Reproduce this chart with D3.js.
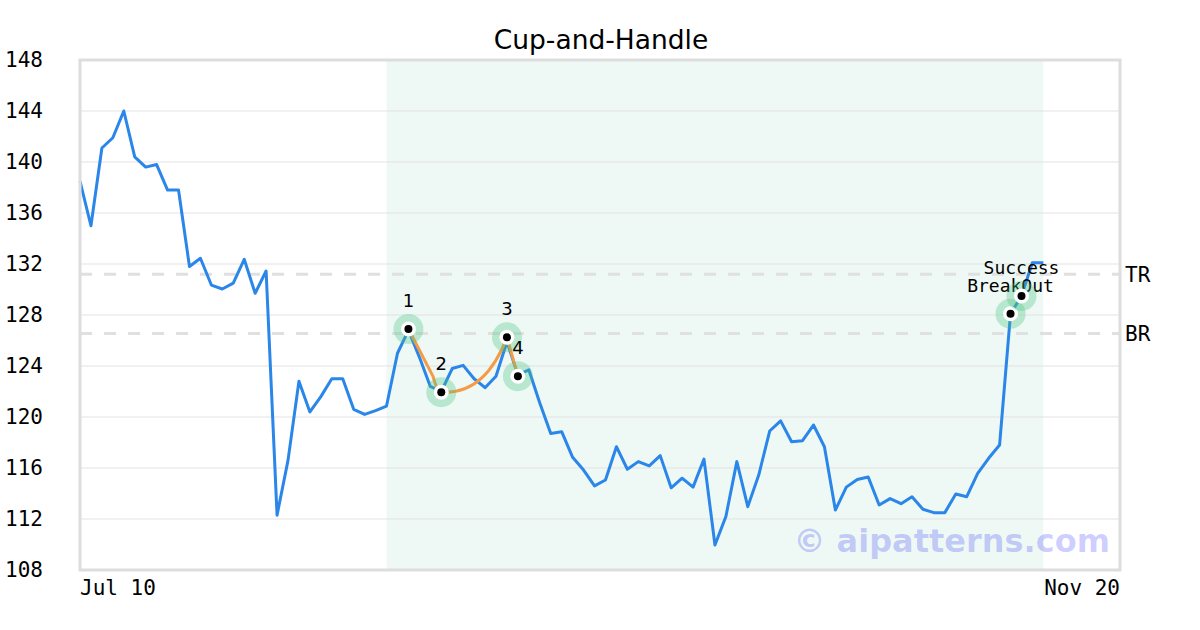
<!DOCTYPE html>
<html lang="en">
<head>
<meta charset="utf-8">
<title>Cup-and-Handle</title>
<script src="https://cdn.jsdelivr.net/npm/d3@7"></script>
<style>
  body { margin: 0; background: #fff; }
  svg text { font-family: "DejaVu Sans Mono", monospace; }
</style>
</head>
<body>
<svg width="1200" height="630"></svg>
<script>
// closing prices, one per trading day from Jul 10
var prices = [138.5, 135.0, 141.1, 141.9, 144.0, 140.4, 139.6, 139.8, 137.8, 137.8,
  131.8, 132.45, 130.35, 130.04, 130.5, 132.37, 129.7, 131.45, 112.3, 116.6,
  122.8, 120.4, 121.6, 123.0, 123.0, 120.6, 120.2, 120.5, 120.86, 125.0,
  126.8, 124.7, 122.4, 122.0, 123.8, 124.05, 123.0, 122.3, 123.2, 125.9,
  123.3, 123.7, 121.1, 118.7, 118.85, 116.84, 115.84, 114.6, 115.06, 117.67,
  115.9, 116.5, 116.16, 116.97, 114.45, 115.2, 114.5, 116.7, 109.96, 112.2,
  116.5, 112.97, 115.45, 118.9, 119.7, 118.06, 118.14, 119.37, 117.67, 112.7,
  114.5, 115.1, 115.3, 113.1, 113.6, 113.2, 113.75, 112.76, 112.5, 112.5,
  113.96, 113.75, 115.58, 116.76, 117.8, 128.1, 129.5, 132.1, 132.1];

var xTickIdx = [0, 95];
var xTickLabels = ["Jul 10", "Nov 20"];
var yTicks = [108, 112, 116, 120, 124, 128, 132, 136, 140, 144, 148];

// pattern points 1-4
var cupIdx = [30, 33, 39, 40];
var cupVals = [126.9, 121.95, 126.25, 123.2];
var cupLabels = ["1", "2", "3", "4"];

// breakout / success
var sigIdx = [85, 86];
var sigVals = [128.1, 129.5];
var sigLabels = ["BreakOut", "Success"];

var levelVals = [131.2, 126.55];
var levelLabels = ["TR", "BR"];

var zoneIdx = [28, 88];

var svg = d3.select("svg"),
    margin = {top: 60, right: 80, bottom: 60, left: 80},
    width = 1200 - margin.left - margin.right,
    height = 630 - margin.top - margin.bottom,
    g = svg.append("g").attr("transform", "translate(" + margin.left + "," + margin.top + ")");

var x = d3.scaleLinear().domain([0, 95]).range([0, width]);
var y = d3.scaleLinear().domain([108, 148]).range([height, 0]);

// title
svg.append("text")
    .attr("x", 601).attr("y", 49)
    .attr("text-anchor", "middle")
    .style("font-family", "'DejaVu Sans', sans-serif")
    .style("font-size", "26.5px")
    .text("Cup-and-Handle");

// pattern zone
g.append("rect")
    .attr("x", x(zoneIdx[0]))
    .attr("y", 0)
    .attr("width", x(zoneIdx[1]) - x(zoneIdx[0]))
    .attr("height", height)
    .attr("fill", "#eef8f4");

// grid
g.selectAll(".grid")
    .data(yTicks.slice(1, -1))
    .enter().append("line")
    .attr("x1", 0).attr("x2", width)
    .attr("y1", function(d) { return y(d); })
    .attr("y2", function(d) { return y(d); })
    .attr("stroke", "#e3e3e3")
    .attr("stroke-width", 1);

// y labels
svg.selectAll(".ylab")
    .data(yTicks)
    .enter().append("text")
    .attr("x", 5)
    .attr("y", function(d) { return margin.top + y(d); })
    .attr("dy", "0.35em")
    .style("font-size", "21px")
    .text(function(d) { return d; });

// x labels
svg.selectAll(".xlab")
    .data(xTickIdx)
    .enter().append("text")
    .attr("x", function(d) { return margin.left + x(d); })
    .attr("y", 595)
    .attr("text-anchor", function(d, i) { return i == 0 ? "start" : "end"; })
    .style("font-size", "21px")
    .text(function(d, i) { return xTickLabels[i]; });

// watermark
g.append("text")
    .attr("x", 1110 - margin.left)
    .attr("y", 552 - margin.top)
    .attr("text-anchor", "end")
    .style("font-family", "'DejaVu Sans', sans-serif")
    .style("font-weight", "bold")
    .style("font-size", "32px")
    .attr("fill", "rgba(0,0,255,0.2)")
    .text("\u00a9 aipatterns.com");

// TR / BR levels
g.selectAll(".level")
    .data(levelVals)
    .enter().append("line")
    .attr("x1", 0).attr("x2", width)
    .attr("y1", function(d) { return y(d); })
    .attr("y2", function(d) { return y(d); })
    .attr("stroke", "#e0e0e0")
    .attr("stroke-width", 3)
    .attr("stroke-dasharray", "12,12");

g.selectAll(".levlab")
    .data(levelVals)
    .enter().append("text")
    .attr("x", width + 5)
    .attr("y", function(d) { return y(d); })
    .attr("dy", "0.35em")
    .style("font-size", "21px")
    .text(function(d, i) { return levelLabels[i]; });

// price line
var line = d3.line()
    .x(function(d, i) { return x(i); })
    .y(function(d) { return y(d); });

g.append("path")
    .datum(prices)
    .attr("fill", "none")
    .attr("stroke", "#2a86e8")
    .attr("stroke-width", 3)
    .attr("stroke-linejoin", "round")
    .attr("d", line);

// cup curve: straight into the bottom, rounded cup up to the rim, straight into the handle
var cupPts = cupIdx.map(function(d, i) { return [x(d), y(cupVals[i])]; });
var p = d3.path();
var lead = [cupPts[0][0] + (cupPts[1][0] - cupPts[0][0]) * 0.75,
            cupPts[0][1] + (cupPts[1][1] - cupPts[0][1]) * 0.75];
p.moveTo(cupPts[0][0], cupPts[0][1]);
p.lineTo(lead[0], lead[1]);
p.quadraticCurveTo(cupPts[1][0] - 4, cupPts[1][1], cupPts[1][0], cupPts[1][1]);
p.quadraticCurveTo(x(cupIdx[2] - 2), cupPts[1][1] + 3, cupPts[2][0], cupPts[2][1]);
p.lineTo(cupPts[3][0], cupPts[3][1]);
g.append("path")
    .attr("fill", "none")
    .attr("stroke", "#f59a45")
    .attr("stroke-width", 3)
    .attr("stroke-linejoin", "round")
    .attr("d", p.toString());

function marker(sel) {
  sel.append("circle").attr("r", 15).attr("fill", "rgba(70,195,130,0.32)");
  sel.append("circle").attr("r", 7.5).attr("fill", "#fff");
  sel.append("circle").attr("r", 4).attr("fill", "#000");
}

var cup = g.selectAll(".cup")
    .data(cupPts)
    .enter().append("g")
    .attr("transform", function(d) { return "translate(" + d[0] + "," + d[1] + ")"; });
marker(cup);
cup.append("text")
    .attr("y", -22)
    .attr("text-anchor", "middle")
    .style("font-family", "'DejaVu Sans', sans-serif")
    .style("font-size", "18px")
    .text(function(d, i) { return cupLabels[i]; });

var sig = g.selectAll(".sig")
    .data(sigIdx)
    .enter().append("g")
    .attr("transform", function(d, i) { return "translate(" + x(d) + "," + y(sigVals[i]) + ")"; });
marker(sig);
sig.append("text")
    .attr("y", -22)
    .attr("text-anchor", "middle")
    .style("font-size", "18px")
    .text(function(d, i) { return sigLabels[i]; });

// frame
g.append("rect")
    .attr("width", width).attr("height", height)
    .attr("fill", "none")
    .attr("stroke", "#dddddd")
    .attr("stroke-width", 3);
</script>
</body>
</html>
